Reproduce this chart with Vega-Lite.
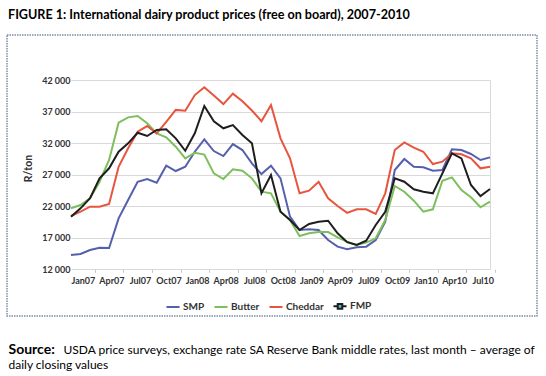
{
"$schema": "https://vega.github.io/schema/vega-lite/v6.json",
"width": 530, "height": 281,
"autosize": "none",
"padding": {"left": 7, "top": 35, "right": 9, "bottom": 60},
"background": "white",
"title": {"text": "FIGURE 1: International dairy product prices (free on board), 2007-2010", "anchor": "start", "frame": "group", "font": "Lato", "fontSize": 12.6, "fontWeight": "bold", "color": "#000", "baseline": "alphabetic", "offset": 3, "dx": 1},
"data": {"values": [
{"m":"Dec06","s":"SMP","v":14270},{"m":"Jan07","s":"SMP","v":14430},{"m":"Feb07","s":"SMP","v":15060},{"m":"Mar07","s":"SMP","v":15430},{"m":"Apr07","s":"SMP","v":15380},{"m":"May07","s":"SMP","v":20090},{"m":"Jun07","s":"SMP","v":23000},{"m":"Jul07","s":"SMP","v":25900},{"m":"Aug07","s":"SMP","v":26330},{"m":"Sep07","s":"SMP","v":25740},{"m":"Oct07","s":"SMP","v":28440},{"m":"Nov07","s":"SMP","v":27600},{"m":"Dec07","s":"SMP","v":28280},{"m":"Jan08","s":"SMP","v":30660},{"m":"Feb08","s":"SMP","v":32630},{"m":"Mar08","s":"SMP","v":30770},{"m":"Apr08","s":"SMP","v":29980},{"m":"May08","s":"SMP","v":31880},{"m":"Jun08","s":"SMP","v":30930},{"m":"Jul08","s":"SMP","v":28820},{"m":"Aug08","s":"SMP","v":27120},{"m":"Sep08","s":"SMP","v":28440},{"m":"Oct08","s":"SMP","v":26440},{"m":"Nov08","s":"SMP","v":20350},{"m":"Dec08","s":"SMP","v":18240},{"m":"Jan09","s":"SMP","v":18350},{"m":"Feb09","s":"SMP","v":18240},{"m":"Mar09","s":"SMP","v":16650},{"m":"Apr09","s":"SMP","v":15590},{"m":"May09","s":"SMP","v":15200},{"m":"Jun09","s":"SMP","v":15490},{"m":"Jul09","s":"SMP","v":15590},{"m":"Aug09","s":"SMP","v":16650},{"m":"Sep09","s":"SMP","v":19560},{"m":"Oct09","s":"SMP","v":27760},{"m":"Nov09","s":"SMP","v":29510},{"m":"Dec09","s":"SMP","v":28280},{"m":"Jan10","s":"SMP","v":28190},{"m":"Feb10","s":"SMP","v":27650},{"m":"Mar10","s":"SMP","v":27760},{"m":"Apr10","s":"SMP","v":31040},{"m":"May10","s":"SMP","v":30930},{"m":"Jun10","s":"SMP","v":30300},{"m":"Jul10","s":"SMP","v":29350},{"m":"Aug10","s":"SMP","v":29770},
{"m":"Dec06","s":"Butter","v":21680},{"m":"Jan07","s":"Butter","v":22200},{"m":"Feb07","s":"Butter","v":23270},{"m":"Mar07","s":"Butter","v":25900},{"m":"Apr07","s":"Butter","v":29350},{"m":"May07","s":"Butter","v":35270},{"m":"Jun07","s":"Butter","v":36120},{"m":"Jul07","s":"Butter","v":36330},{"m":"Aug07","s":"Butter","v":35170},{"m":"Sep07","s":"Butter","v":33580},{"m":"Oct07","s":"Butter","v":32950},{"m":"Nov07","s":"Butter","v":31460},{"m":"Dec07","s":"Butter","v":29610},{"m":"Jan08","s":"Butter","v":30500},{"m":"Feb08","s":"Butter","v":30200},{"m":"Mar08","s":"Butter","v":27230},{"m":"Apr08","s":"Butter","v":26330},{"m":"May08","s":"Butter","v":27870},{"m":"Jun08","s":"Butter","v":27650},{"m":"Jul08","s":"Butter","v":26440},{"m":"Aug08","s":"Butter","v":24320},{"m":"Sep08","s":"Butter","v":24060},{"m":"Oct08","s":"Butter","v":21140},{"m":"Nov08","s":"Butter","v":19820},{"m":"Dec08","s":"Butter","v":17280},{"m":"Jan09","s":"Butter","v":17710},{"m":"Feb09","s":"Butter","v":17920},{"m":"Mar09","s":"Butter","v":17920},{"m":"Apr09","s":"Butter","v":17080},{"m":"May09","s":"Butter","v":16380},{"m":"Jun09","s":"Butter","v":15860},{"m":"Jul09","s":"Butter","v":16230},{"m":"Aug09","s":"Butter","v":16920},{"m":"Sep09","s":"Butter","v":19820},{"m":"Oct09","s":"Butter","v":25220},{"m":"Nov09","s":"Butter","v":24320},{"m":"Dec09","s":"Butter","v":22890},{"m":"Jan10","s":"Butter","v":21140},{"m":"Feb10","s":"Butter","v":21520},{"m":"Mar10","s":"Butter","v":26060},{"m":"Apr10","s":"Butter","v":26600},{"m":"May10","s":"Butter","v":24580},{"m":"Jun10","s":"Butter","v":23430},{"m":"Jul10","s":"Butter","v":21840},{"m":"Aug10","s":"Butter","v":22730},
{"m":"Dec06","s":"Cheddar","v":20460},{"m":"Jan07","s":"Cheddar","v":21140},{"m":"Feb07","s":"Cheddar","v":21940},{"m":"Mar07","s":"Cheddar","v":21940},{"m":"Apr07","s":"Cheddar","v":22360},{"m":"May07","s":"Cheddar","v":28280},{"m":"Jun07","s":"Cheddar","v":31200},{"m":"Jul07","s":"Cheddar","v":33840},{"m":"Aug07","s":"Cheddar","v":34740},{"m":"Sep07","s":"Cheddar","v":33580},{"m":"Oct07","s":"Cheddar","v":35400},{"m":"Nov07","s":"Cheddar","v":37300},{"m":"Dec07","s":"Cheddar","v":37170},{"m":"Jan08","s":"Cheddar","v":39660},{"m":"Feb08","s":"Cheddar","v":40900},{"m":"Mar08","s":"Cheddar","v":39580},{"m":"Apr08","s":"Cheddar","v":38230},{"m":"May08","s":"Cheddar","v":39880},{"m":"Jun08","s":"Cheddar","v":38680},{"m":"Jul08","s":"Cheddar","v":37200},{"m":"Aug08","s":"Cheddar","v":35500},{"m":"Sep08","s":"Cheddar","v":38080},{"m":"Oct08","s":"Cheddar","v":32790},{"m":"Nov08","s":"Cheddar","v":29610},{"m":"Dec08","s":"Cheddar","v":24060},{"m":"Jan09","s":"Cheddar","v":24480},{"m":"Feb09","s":"Cheddar","v":25900},{"m":"Mar09","s":"Cheddar","v":23270},{"m":"Apr09","s":"Cheddar","v":22050},{"m":"May09","s":"Cheddar","v":20950},{"m":"Jun09","s":"Cheddar","v":21520},{"m":"Jul09","s":"Cheddar","v":21520},{"m":"Aug09","s":"Cheddar","v":20780},{"m":"Sep09","s":"Cheddar","v":24060},{"m":"Oct09","s":"Cheddar","v":30930},{"m":"Nov09","s":"Cheddar","v":32150},{"m":"Dec09","s":"Cheddar","v":31300},{"m":"Jan10","s":"Cheddar","v":30660},{"m":"Feb10","s":"Cheddar","v":28710},{"m":"Mar10","s":"Cheddar","v":29080},{"m":"Apr10","s":"Cheddar","v":30410},{"m":"May10","s":"Cheddar","v":30250},{"m":"Jun10","s":"Cheddar","v":29610},{"m":"Jul10","s":"Cheddar","v":28030},{"m":"Aug10","s":"Cheddar","v":28280},
{"m":"Dec06","s":"FMP","v":20350},{"m":"Jan07","s":"FMP","v":21680},{"m":"Feb07","s":"FMP","v":23270},{"m":"Mar07","s":"FMP","v":26440},{"m":"Apr07","s":"FMP","v":28030},{"m":"May07","s":"FMP","v":30660},{"m":"Jun07","s":"FMP","v":32000},{"m":"Jul07","s":"FMP","v":33680},{"m":"Aug07","s":"FMP","v":33160},{"m":"Sep07","s":"FMP","v":34110},{"m":"Oct07","s":"FMP","v":34220},{"m":"Nov07","s":"FMP","v":32790},{"m":"Dec07","s":"FMP","v":30820},{"m":"Jan08","s":"FMP","v":33580},{"m":"Feb08","s":"FMP","v":37920},{"m":"Mar08","s":"FMP","v":35500},{"m":"Apr08","s":"FMP","v":34380},{"m":"May08","s":"FMP","v":34900},{"m":"Jun08","s":"FMP","v":33310},{"m":"Jul08","s":"FMP","v":32000},{"m":"Aug08","s":"FMP","v":24060},{"m":"Sep08","s":"FMP","v":26970},{"m":"Oct08","s":"FMP","v":21140},{"m":"Nov08","s":"FMP","v":19820},{"m":"Dec08","s":"FMP","v":18240},{"m":"Jan09","s":"FMP","v":19190},{"m":"Feb09","s":"FMP","v":19560},{"m":"Mar09","s":"FMP","v":19710},{"m":"Apr09","s":"FMP","v":17710},{"m":"May09","s":"FMP","v":16300},{"m":"Jun09","s":"FMP","v":15860},{"m":"Jul09","s":"FMP","v":16540},{"m":"Aug09","s":"FMP","v":19030},{"m":"Sep09","s":"FMP","v":21140},{"m":"Oct09","s":"FMP","v":26440},{"m":"Nov09","s":"FMP","v":25900},{"m":"Dec09","s":"FMP","v":24700},{"m":"Jan10","s":"FMP","v":24320},{"m":"Feb10","s":"FMP","v":24060},{"m":"Mar10","s":"FMP","v":27230},{"m":"Apr10","s":"FMP","v":30410},{"m":"May10","s":"FMP","v":29610},{"m":"Jun10","s":"FMP","v":25380},{"m":"Jul10","s":"FMP","v":23630},{"m":"Aug10","s":"FMP","v":24740}
]},
"layer": [
{"mark": {"type": "line", "strokeWidth": 2},
 "encoding": {
  "x": {"field": "m", "type": "ordinal", "sort": null,
   "scale": {"type": "point", "range": [64, 483], "padding": 0},
   "axis": {"orient": "bottom", "offset": -46.7,
    "values": ["Jan07","Apr07","Jul07","Oct07","Jan08","Apr08","Jul08","Oct08","Jan09","Apr09","Jul09","Oct09","Jan10","Apr10","Jul10"],
    "domain": false, "grid": false, "ticks": true, "tickSize": 3, "tickColor": "#c8c8c8", "tickOffset": 14.3, "labelOffset": -12,
    "labelAngle": 0, "labelFont": "Lato", "labelFontSize": 9, "labelFontWeight": "bold", "labelColor": "#333", "labelPadding": 4,
    "title": "USDA price surveys, exchange rate SA Reserve Bank middle rates, last month – average of",
    "titleX": 56, "titleY": 83.7, "titleAlign": "left", "titleBaseline": "alphabetic", "titleAngle": 0,
    "titleFont": "Lato", "titleFontSize": 12, "titleFontWeight": "normal", "titleColor": "#000"}},
  "y": {"field": "v", "type": "quantitative",
   "scale": {"domain": [12000, 42000], "range": [234.3, 45.3], "nice": false, "zero": false},
   "axis": {"orient": "left", "offset": -64, "values": [12000,17000,22000,27000,32000,37000,42000],
    "domain": false, "ticks": false, "grid": true, "gridColor": "#d9d9d9", "gridWidth": 1,
    "labelExpr": "replace(format(datum.value, ','), ',', ' ')",
    "labelFont": "Lato", "labelFontSize": 9, "labelFontWeight": "bold", "labelColor": "#333", "labelPadding": 1,
    "title": "R/ton", "titleX": -43, "titleY": 133, "titleAngle": -90, "titleAlign": "center", "titleBaseline": "middle",
    "titleFont": "Lato", "titleFontSize": 10.5, "titleFontWeight": "bold", "titleColor": "#333"}},
  "color": {"field": "s", "type": "nominal",
   "scale": {"domain": ["SMP","Butter","Cheddar","FMP"], "range": ["#5560ad","#7dbf5c","#e8553e","#1e1e1e"]},
   "legend": {"orient": "none", "legendX": 158, "legendY": 263, "direction": "horizontal", "title": null,
    "symbolType": "stroke", "symbolSize": 170, "symbolStrokeWidth": 2,
    "labelFont": "Lato", "labelFontSize": 10, "labelFontWeight": "bold", "labelColor": "#333", "columnPadding": 5, "labelOffset": 2,
    "encode": {"symbols": {"update": {
      "shape": {"signal": "datum.value === 'FMP' ? 'M-1,0H-0.35M0.35,0H1M-0.35,-0.35H0.35V0.35H-0.35Z' : 'stroke'"},
      "fill": {"signal": "datum.value === 'FMP' ? '#5bb8c8' : 'transparent'"}}}}}}
 }},
{"mark": {"type": "point", "opacity": 0},
 "encoding": {
  "x": {"field": "m", "type": "ordinal", "sort": null,
   "axis": {"orient": "top", "offset": 0, "labels": false, "ticks": false, "domain": false, "grid": false,
    "title": "Source:", "titleX": 1, "titleY": 318, "titleAlign": "left", "titleBaseline": "alphabetic", "titleAngle": 0,
    "titleFont": "Lato", "titleFontSize": 14, "titleFontWeight": "bold", "titleColor": "#000"}},
  "y": {"field": "v", "type": "quantitative",
   "axis": {"orient": "right", "offset": -47, "labels": false, "ticks": false, "grid": false, "domain": true, "domainColor": "#d9d9d9", "domainWidth": 1,
    "title": "daily closing values", "titleX": -482, "titleY": 333, "titleAlign": "left", "titleBaseline": "alphabetic", "titleAngle": 0,
    "titleFont": "Lato", "titleFontSize": 12, "titleFontWeight": "normal", "titleColor": "#000"}}
 }}
],
"resolve": {"axis": {"x": "independent", "y": "independent"}},
"config": {"view": {"stroke": "#7b8da6", "strokeWidth": 1.5, "strokeDash": [1.5, 1]}}
}
